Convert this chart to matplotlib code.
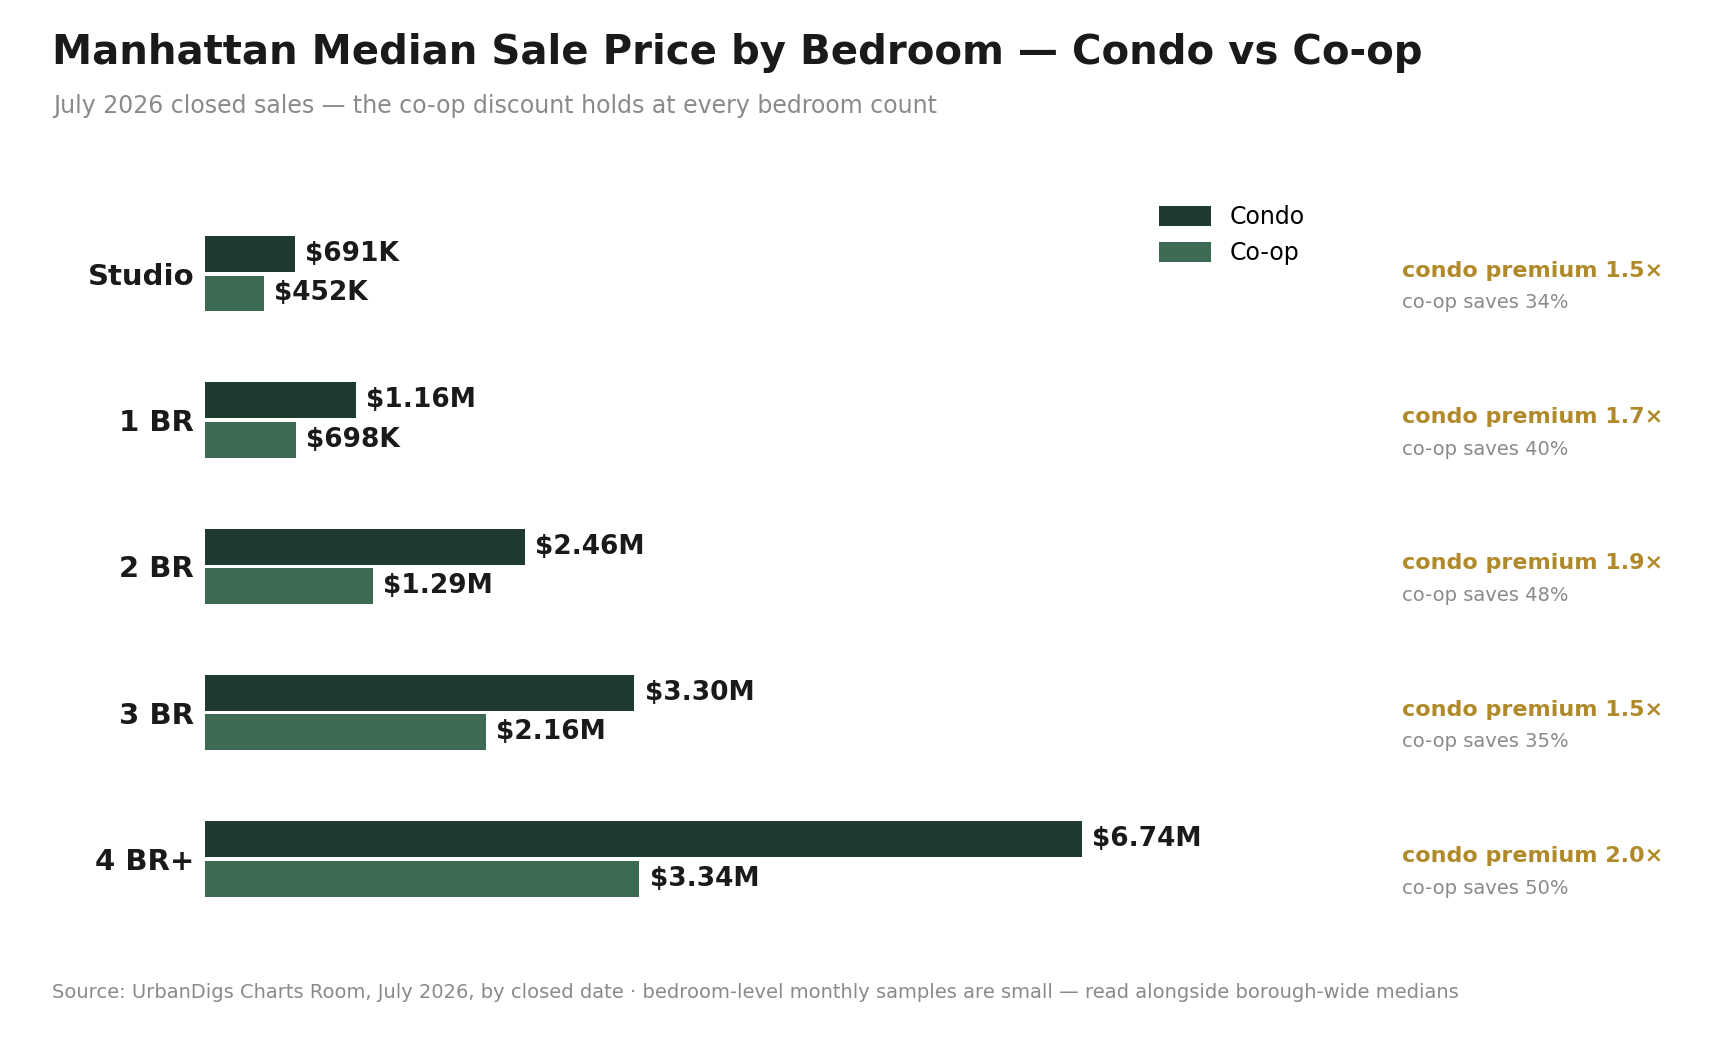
import matplotlib.pyplot as plt
import matplotlib.transforms as mtransforms
import numpy as np

categories = ['Studio', '1 BR', '2 BR', '3 BR', '4 BR+']
condo = [0.691, 1.16, 2.46, 3.30, 6.74]   # $M
coop = [0.452, 0.698, 1.29, 2.16, 3.34]
condo_labels = ['$691K', '$1.16M', '$2.46M', '$3.30M', '$6.74M']
coop_labels = ['$452K', '$698K', '$1.29M', '$2.16M', '$3.34M']
premium = ['1.5×', '1.7×', '1.9×', '1.5×', '2.0×']
saves = ['34%', '40%', '48%', '35%', '50%']

c_condo = '#1f3a2e'
c_coop = '#3c6a52'
gold = '#b08a2a'
gray = '#8a8a8a'

fig = plt.figure(figsize=(17.24, 10.52), dpi=100)
ax = fig.add_axes([0.119, 0.10, 0.66, 0.74])

y = np.arange(len(categories))
h = 0.245
off = 0.135
ax.barh(y - off, condo, height=h, color=c_condo, label='Condo')
ax.barh(y + off, coop, height=h, color=c_coop, label='Co-op')

for i in range(len(categories)):
    ax.text(condo[i] + 0.08, y[i] - off, condo_labels[i], va='center', ha='left',
            fontsize=19, fontweight='bold', color='#1a1a1a')
    ax.text(coop[i] + 0.08, y[i] + off, coop_labels[i], va='center', ha='left',
            fontsize=19, fontweight='bold', color='#1a1a1a')

ax.set_xlim(0, 8.75)
ax.set_ylim(4.6, -0.72)
ax.set_yticks(y)
ax.set_yticklabels(categories, fontsize=21, fontweight='bold', color='#1a1a1a')
ax.tick_params(axis='y', length=0, pad=8)
ax.set_xticks([])
for s in ax.spines.values():
    s.set_visible(False)

tr = mtransforms.blended_transform_factory(fig.transFigure, ax.transData)
for i in range(len(categories)):
    ax.text(0.813, y[i] - 0.02, f'condo premium {premium[i]}', transform=tr,
            fontsize=16, fontweight='bold', color=gold, va='center', ha='left')
    ax.text(0.813, y[i] + 0.2, f'co-op saves {saves[i]}', transform=tr,
            fontsize=14, color=gray, va='center', ha='left')

fig.legend(loc='upper left', bbox_to_anchor=(0.66, 0.825), frameon=False,
           fontsize=17, handlelength=2.2, handleheight=0.9)

fig.text(0.03, 0.95, 'Manhattan Median Sale Price by Bedroom — Condo vs Co-op',
         fontsize=29, fontweight='bold', color='#1a1a1a', va='center')
fig.text(0.031, 0.899, 'July 2026 closed sales — the co-op discount holds at every bedroom count',
         fontsize=17, color=gray, va='center')
fig.text(0.03, 0.057, 'Source: UrbanDigs Charts Room, July 2026, by closed date · bedroom-level monthly samples are small — read alongside borough-wide medians',
         fontsize=14, color=gray, va='center')

fig.savefig('out.png', dpi=100, facecolor='white')
